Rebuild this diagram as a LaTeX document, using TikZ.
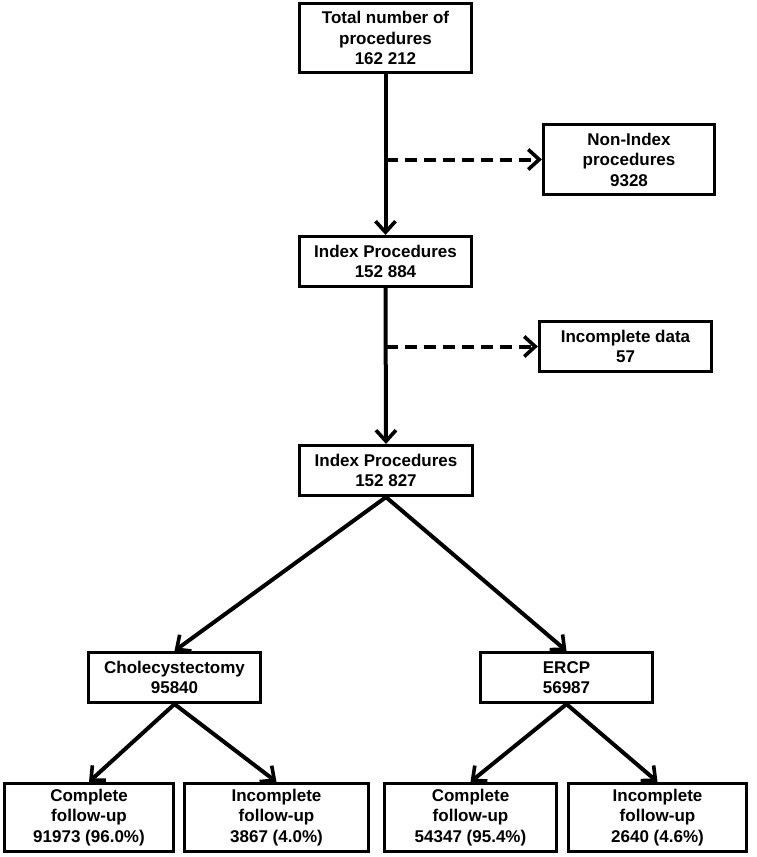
\documentclass[tikz,border=0pt]{standalone}
\usepackage{fontspec}
\setmainfont{Liberation Sans}
\usetikzlibrary{arrows.meta}
\begin{document}
\begin{tikzpicture}[x=1pt,y=-1pt,
  box/.style={draw=black,line width=3.2pt,fill=white,align=center,inner sep=2pt,
    font=\fontsize{17}{20.5}\selectfont\bfseries,text=black},
  conn/.style={line width=4pt,-{Straight Barb[length=11pt,width=20pt,line width=3.6pt]}},
  dconn/.style={conn,dash pattern=on 12pt off 7pt}]
\useasboundingbox (0,0) rectangle (756,857);
\node[box,minimum width=172pt,minimum height=69pt] (total) at (385.5,38) {Total number of\\procedures\\162 212};
\node[box,minimum width=171pt,minimum height=70pt] (nonidx) at (629,159.5) {Non-Index\\procedures\\9328};
\node[box,minimum width=172pt,minimum height=50pt] (idx1) at (385.5,261.5) {Index Procedures\\152 884};
\node[box,minimum width=172pt,minimum height=50pt] (incdata) at (625.5,346.5) {Incomplete data\\57};
\node[box,minimum width=173pt,minimum height=50pt] (idx2) at (386,470.5) {Index Procedures\\152 827};
\node[box,minimum width=172pt,minimum height=50pt] (chole) at (174.5,677.5) {Cholecystectomy\\95840};
\node[box,minimum width=172pt,minimum height=50pt] (ercp) at (566.5,677.5) {ERCP\\56987};
\node[box,minimum width=169pt,minimum height=68pt] (b1) at (89,817.5) {Complete\\follow-up\\91973 (96.0\%)};
\node[box,minimum width=184pt,minimum height=68pt] (b2) at (276.5,817.5) {Incomplete\\follow-up\\3867 (4.0\%)};
\node[box,minimum width=172pt,minimum height=68pt] (b3) at (470.5,817.5) {Complete\\follow-up\\54347 (95.4\%)};
\node[box,minimum width=178pt,minimum height=68pt] (b4) at (657.5,817.5) {Incomplete\\follow-up\\2640 (4.6\%)};
\coordinate (j1) at (total.south |- nonidx.west);
\coordinate (j2) at (idx1.south |- incdata.west);
\draw[conn] (total.south) -- (idx1.north);
\draw[conn] (idx1.south) -- (idx2.north);
\draw[dconn] (j1) -- (nonidx.west);
\draw[dconn] (j2) -- (incdata.west);
\draw[conn] (idx2.south) -- (chole.north);
\draw[conn] (idx2.south) -- (ercp.north);
\draw[conn] (chole.south) -- (b1.north);
\draw[conn] (chole.south) -- (b2.north);
\draw[conn] (ercp.south) -- (b3.north);
\draw[conn] (ercp.south) -- (b4.north);
\end{tikzpicture}
\end{document}
